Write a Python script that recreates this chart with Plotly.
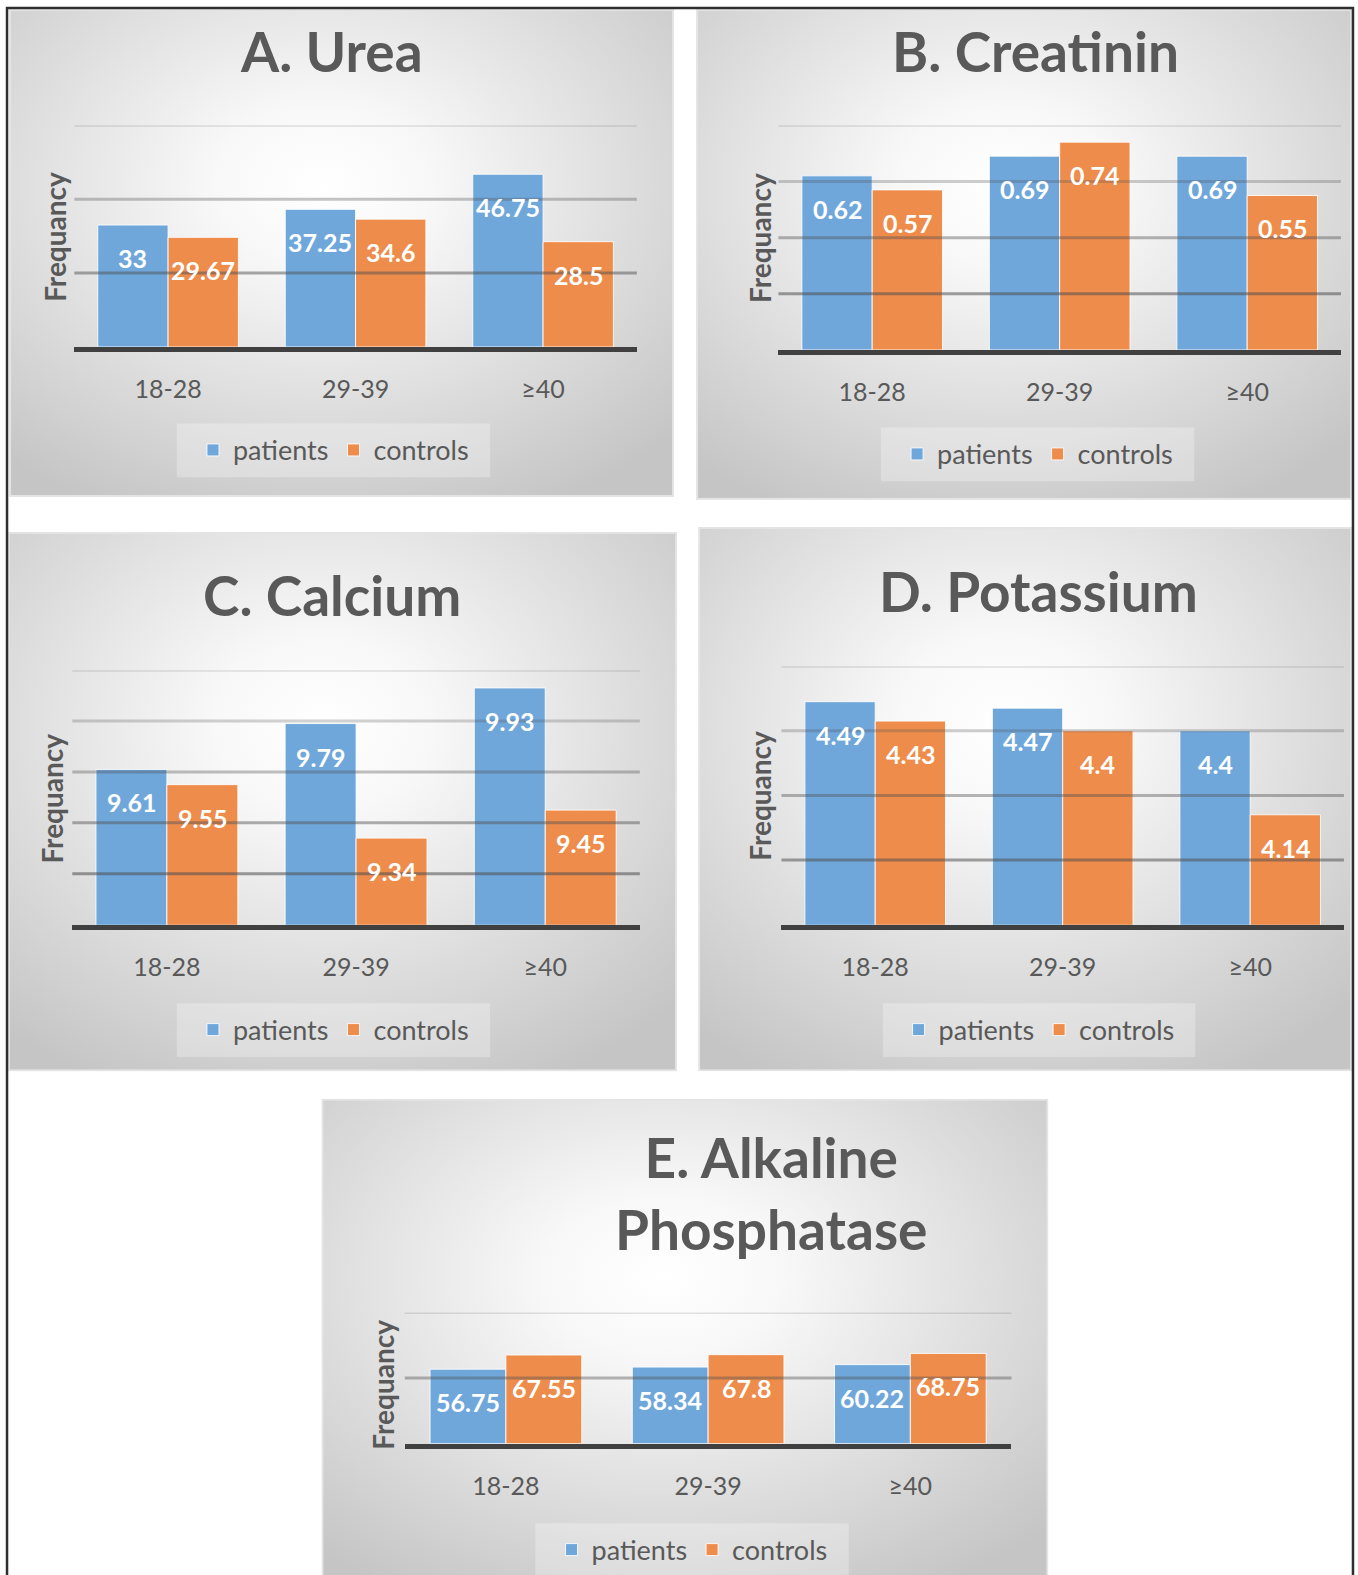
import base64
import plotly.graph_objects as go

W, H = 1358, 1575
SX, SY = 1358 / 1352, 1575 / 1568  # measured on a 1352x1568 view of the page

# ---------------- data ----------------
age_groups = ["18-28", "29-39", "≥40"]
series_names = ["patients", "controls"]

urea_patients = [33, 37.25, 46.75]
urea_controls = [29.67, 34.6, 28.5]
creatinin_patients = [0.62, 0.69, 0.69]
creatinin_controls = [0.57, 0.74, 0.55]
calcium_patients = [9.61, 9.79, 9.93]
calcium_controls = [9.55, 9.34, 9.45]
potassium_patients = [4.49, 4.47, 4.4]
potassium_controls = [4.43, 4.4, 4.14]
alp_patients = [56.75, 58.34, 60.22]
alp_controls = [67.55, 67.8, 68.75]

panel_titles = ["A. Urea", "B. Creatinin", "C. Calcium", "D. Potassium",
                "E. Alkaline<br>Phosphatase"]
y_axis_title = "Frequancy"

# ---------------- layout / style ----------------
BLUE = "#6FA7DB"
ORANGE = "#EE8C4C"
TXT = "#595959"
FONT = "Lato"

# pixel boxes: panel background, plot area (x0, ytop, x1, ybottom), title centre,
# legend box, y-title centre, axis range and grid step
panels = [
    dict(title=panel_titles[0], values=(urea_patients, urea_controls),
         box=(9, 9, 671, 500), plot=(74, 126, 634, 349), title_xy=(330, 51),
         legend_box=(176, 426, 488, 480), ytitle_xy=(54, 238), yrange=(0, 60), dtick=20),
    dict(title=panel_titles[1], values=(creatinin_patients, creatinin_controls),
         box=(693, 9, 1346, 503), plot=(775, 126, 1335, 352), title_xy=(1031, 51),
         legend_box=(877, 430, 1189, 484), ytitle_xy=(756, 239), yrange=(0, 0.8), dtick=0.2),
    dict(title=panel_titles[2], values=(calcium_patients, calcium_controls),
         box=(8, 535, 674, 1078), plot=(72, 674, 637, 930), title_xy=(331, 598),
         legend_box=(176, 1009, 488, 1063), ytitle_xy=(52, 803), yrange=(9, 10), dtick=0.2),
    dict(title=panel_titles[3], values=(potassium_patients, potassium_controls),
         box=(695, 530, 1346, 1078), plot=(778, 670, 1338, 930), title_xy=(1034, 594),
         legend_box=(879, 1009, 1190, 1063), ytitle_xy=(757, 800), yrange=(3.8, 4.6), dtick=0.2),
    dict(title=panel_titles[4], values=(alp_patients, alp_controls),
         box=(320, 1105, 1044, 1600), plot=(403, 1320, 1007, 1452), title_xy=(768, 1200),
         legend_box=(533, 1532, 845, 1586), ytitle_xy=(381, 1393), yrange=(0, 100), dtick=50),
]


def fx(px):
    return px * SX / W


def fy(py):
    return 1 - py * SY / H


def grad_svg(w, h):
    svg = (
        f'<svg xmlns="http://www.w3.org/2000/svg" width="{w}" height="{h}" '
        f'viewBox="0 0 {w} {h}" preserveAspectRatio="none">'
        '<defs><radialGradient id="g" cx="0.47" cy="0.36" r="0.74" '
        'gradientUnits="objectBoundingBox">'
        '<stop offset="0" stop-color="#ffffff"/>'
        '<stop offset="0.22" stop-color="#f8f8f8"/>'
        '<stop offset="1" stop-color="#c5c5c5"/>'
        '</radialGradient></defs>'
        f'<rect x="1" y="1" width="{w-2}" height="{h-2}" fill="url(#g)" '
        'stroke="#e4e4e4" stroke-width="2"/></svg>'
    )
    return "data:image/svg+xml;base64," + base64.b64encode(svg.encode()).decode()


fig = go.Figure()
layout = dict(
    width=W, height=H, margin=dict(l=0, r=0, t=0, b=0),
    paper_bgcolor="white", plot_bgcolor="rgba(0,0,0,0)",
    barmode="group", bargap=0.25, bargroupgap=0,
    font=dict(family=FONT, color=TXT),
    showlegend=True,
)
images, shapes, annotations = [], [], []
BARGAP = 0.25
half = (1 - BARGAP) / 4  # offset of each bar centre from category centre

for i, p in enumerate(panels):
    n = i + 1
    sfx = "" if n == 1 else str(n)
    xa, ya = "x" + sfx, "y" + sfx
    lg = "legend" + sfx
    x0, yt, x1, yb = p["plot"]
    bx0, by0, bx1, by1 = p["box"]
    lx0, ly0, lx1, ly1 = p["legend_box"]

    bw, bh = round((bx1 - bx0) * SX), round((by1 - by0) * SY)
    images.append(dict(source=grad_svg(bw, bh), xref="paper", yref="paper",
                       x=fx(bx0), y=fy(by0), sizex=bw / W, sizey=bh / H,
                       xanchor="left", yanchor="top", sizing="stretch", layer="below"))

    for name, vals, col in zip(series_names, p["values"], (BLUE, ORANGE)):
        fig.add_trace(go.Bar(
            x=age_groups, y=vals, name=name, xaxis=xa, yaxis=ya, legend=lg,
            marker=dict(color=col, line=dict(color="rgba(255,255,255,0.85)", width=1)),
            hoverinfo="x+y+name",
        ))

    # data labels (inside end of each bar)
    for k, vals in enumerate(p["values"]):
        off = -half if k == 0 else half
        for j, v in enumerate(vals):
            annotations.append(dict(
                x=j + off, y=v, xref=xa, yref=ya, text=f"{v:g}", showarrow=False,
                yshift=-33, yanchor="middle", xanchor="center",
                font=dict(family=FONT, size=25, color="white", weight="bold")))

    layout["xaxis" + sfx] = dict(
        domain=[fx(x0), fx(x1)], anchor=ya, type="category",
        categoryorder="array", categoryarray=age_groups,
        showline=True, linecolor="#404040", linewidth=5,
        ticks="outside", ticklen=0, tickcolor="rgba(0,0,0,0)",
        ticklabelstandoff=16, showgrid=False, zeroline=False,
        tickfont=dict(family=FONT, size=25, color=TXT), fixedrange=True)
    layout["yaxis" + sfx] = dict(
        domain=[fy(yb), fy(yt)], anchor=xa, range=list(p["yrange"]),
        showgrid=False, showticklabels=False, zeroline=False, showline=False,
        ticks="", fixedrange=True)

    # gridlines (drawn over bars, darker toward the baseline)
    lo, hi = p["yrange"]
    steps = int(round((hi - lo) / p["dtick"]))
    for s in range(1, steps + 1):
        v = lo + s * p["dtick"]
        frac = (v - lo) / (hi - lo)
        alpha = 0.16 + 0.5 * (1 - frac)
        shapes.append(dict(type="line", xref=xa + " domain", x0=0, x1=1, yref=ya, y0=v, y1=v,
                           line=dict(color=f"rgba(80,80,80,{alpha:.2f})", width=3),
                           layer="above"))

    # legend backdrop
    shapes.append(dict(type="rect", xref="paper", yref="paper", x0=fx(lx0), x1=fx(lx1),
                       y0=fy(ly1), y1=fy(ly0), line=dict(width=0),
                       fillcolor="rgba(255,255,255,0.28)", layer="below"))
    layout[lg] = dict(
        orientation="h", x=fx((lx0 + lx1) / 2), y=fy((ly0 + ly1) / 2),
        xanchor="center", yanchor="middle", bgcolor="rgba(0,0,0,0)",
        font=dict(family=FONT, size=27, color=TXT), itemwidth=30,
        itemclick=False, itemdoubleclick=False)

    annotations.append(dict(
        x=fx(p["title_xy"][0]), y=fy(p["title_xy"][1]), xref="paper", yref="paper",
        text=p["title"], showarrow=False, xanchor="center", yanchor="middle",
        font=dict(family=FONT, size=55, color=TXT, weight="bold")))
    annotations.append(dict(
        x=fx(p["ytitle_xy"][0]), y=fy(p["ytitle_xy"][1]), xref="paper", yref="paper",
        text=y_axis_title, textangle=-90, showarrow=False, xanchor="center",
        yanchor="middle", font=dict(family=FONT, size=28, color=TXT, weight="bold")))

# outer frame
shapes.append(dict(type="rect", xref="paper", yref="paper", x0=fx(7), x1=fx(1347),
                   y0=fy(1600), y1=fy(8), line=dict(color="#2e2e2e", width=2.5),
                   fillcolor="rgba(0,0,0,0)", layer="above"))

layout["images"] = images
layout["shapes"] = shapes
layout["annotations"] = annotations
fig.update_layout(**layout)

fig.write_html("out.html", config={"displayModeBar": False},
               post_script="document.body.style.margin='0px';")
